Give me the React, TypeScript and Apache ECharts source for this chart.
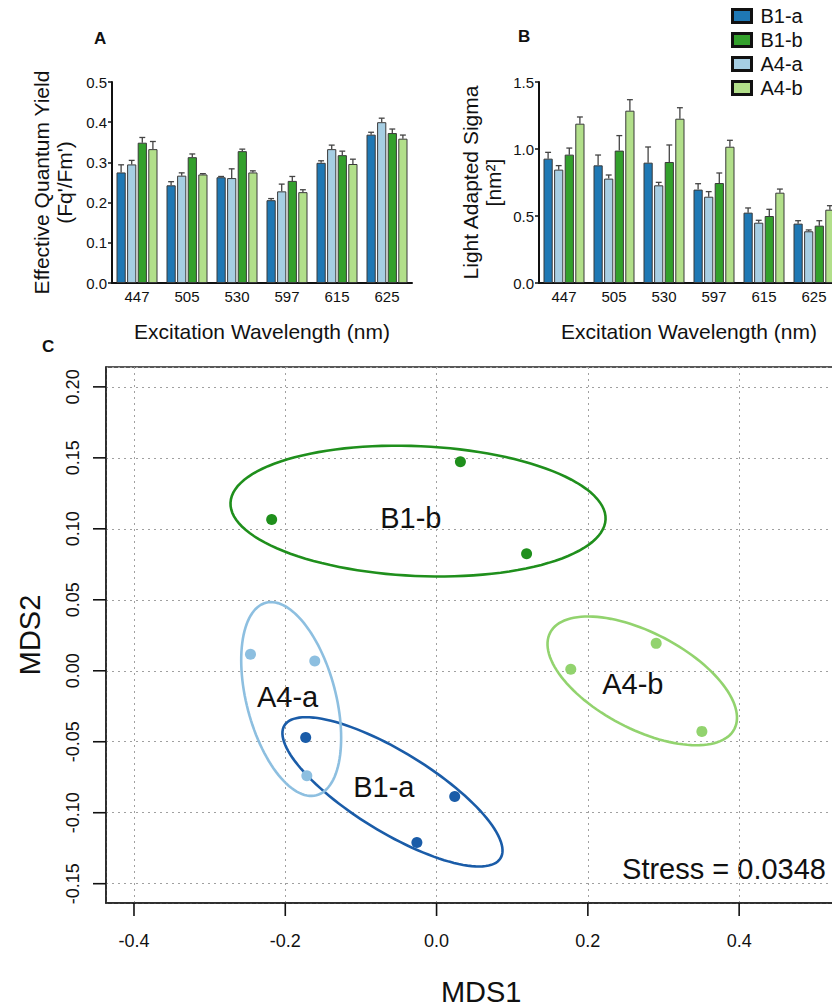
import React, { useEffect, useRef } from "react";
import * as echarts from "echarts";

const FONT = "'Liberation Sans', Arial, Helvetica, sans-serif";

// ---------- Panel A & B data ----------
const wavelengths = ["447", "505", "530", "597", "615", "625"];
const barGroups = ["B1-a", "A4-a", "B1-b", "A4-b"]; // drawing order in each cluster
const legendOrder = ["B1-a", "B1-b", "A4-a", "A4-b"];
const barColors = ["#1f78b4", "#a6cee3", "#33a02c", "#b2df8a"];

// Effective quantum yield (Fq'/Fm')
const yieldB1a = [0.275, 0.243, 0.263, 0.206, 0.299, 0.369];
const yieldA4a = [0.295, 0.267, 0.261, 0.228, 0.333, 0.4];
const yieldB1b = [0.349, 0.313, 0.328, 0.254, 0.318, 0.373];
const yieldA4b = [0.333, 0.27, 0.275, 0.226, 0.296, 0.359];
const yieldErrB1a = [0.019, 0.009, 0.002, 0.004, 0.005, 0.006];
const yieldErrA4a = [0.01, 0.007, 0.023, 0.018, 0.01, 0.01];
const yieldErrB1b = [0.013, 0.008, 0.005, 0.011, 0.01, 0.01];
const yieldErrA4b = [0.019, 0.002, 0.004, 0.006, 0.012, 0.009];

// Light adapted sigma (nm2)
const sigmaB1a = [0.928, 0.878, 0.898, 0.697, 0.525, 0.443];
const sigmaA4a = [0.846, 0.779, 0.729, 0.644, 0.45, 0.386];
const sigmaB1b = [0.958, 0.988, 0.903, 0.746, 0.5, 0.428];
const sigmaA4b = [1.189, 1.286, 1.226, 1.017, 0.674, 0.547];
const sigmaErrB1a = [0.047, 0.077, 0.117, 0.044, 0.035, 0.022];
const sigmaErrA4a = [0.03, 0.027, 0.022, 0.038, 0.018, 0.01];
const sigmaErrB1b = [0.049, 0.112, 0.127, 0.075, 0.05, 0.037];
const sigmaErrA4b = [0.05, 0.082, 0.082, 0.048, 0.027, 0.03];

// ---------- Panel C data (NMDS) ----------
const mdsColors = ["#1a5ca8", "#8dbfe0", "#1f8f1c", "#92d36e"]; // B1-a, A4-a, B1-b, A4-b
const mdsB1a = [[-0.173, -0.047], [0.024, -0.0885], [-0.026, -0.121]];
const mdsA4a = [[-0.246, 0.0117], [-0.161, 0.0069], [-0.1715, -0.0739]];
const mdsB1b = [[-0.218, 0.1066], [0.0315, 0.1472], [0.119, 0.0824]];
const mdsA4b = [[0.2903, 0.0193], [0.1774, 0.001], [0.3507, -0.0427]];
// ellipse: centre x, centre y, semi-axis 1 (dx, dy), semi-axis 2 (dx, dy) in data units
const ellB1a = [-0.0583, -0.0853, 0.1428, -0.0468, -0.0278, -0.024];
const ellA4a = [-0.1922, -0.0199, -0.0334, 0.0678, 0.057, 0.008];
const ellB1b = [-0.0245, 0.1125, 0.2479, -0.0059, -0.0038, -0.0457];
const ellA4b = [0.2719, -0.0071, 0.1217, -0.034, -0.0296, -0.03];
const groupLabelPos = [
  [-0.0697, -0.0817],
  [-0.197, -0.0185],
  [-0.034, 0.1075],
  [0.2595, -0.0094],
];
// axis ranges and ticks of panel C
const MDS_X_MIN = -0.437;
const MDS_X_MAX = 0.555;
const MDS_Y_MIN = -0.1636;
const MDS_Y_MAX = 0.214;
const mdsXTicks = [-0.4, -0.2, 0.0, 0.2, 0.4];
const mdsYTicks = [-0.15, -0.1, -0.05, 0.0, 0.05, 0.1, 0.15, 0.2];
const X_TICK_FIRST = -0.4;
const X_TICK_LAST = 0.4;
const X_TICK_STEP = 0.2;
const Y_TICK_FIRST = -0.15;
const Y_TICK_LAST = 0.2;
const Y_TICK_STEP = 0.05;
const stressText = "Stress = 0.0348";

const BAR_GAP = 0.15;
const CAT_GAP = 0.18;
const TICK_LEN = 13;

// panel C frame (pixels)
const C_LEFT = 106;
const C_TOP = 367;
const C_WIDTH = 750.4;
const C_HEIGHT = 536;

function barSeries(grid: number, values: number[][]) {
  return values.map((vals, k) => ({
    type: "bar",
    name: barGroups[k],
    xAxisIndex: grid,
    yAxisIndex: grid,
    data: vals,
    barGap: BAR_GAP * 100 + "%",
    barCategoryGap: CAT_GAP * 100 + "%",
    itemStyle: { color: barColors[k], borderColor: "#3a3a3a", borderWidth: 1 },
    z: 2,
  }));
}

function errSeries(grid: number, values: number[][], errs: number[][]) {
  return values.map((vals, k) => ({
    type: "custom",
    name: "err" + grid + "-" + k,
    xAxisIndex: grid,
    yAxisIndex: grid,
    z: 3,
    silent: true,
    data: vals.map((v, i) => [i, v, v + errs[k][i]]),
    encode: { x: 0, y: [1, 2] },
    renderItem: (params: any, api: any) => {
      const cat = api.value(0);
      const v = api.value(1);
      const hi = api.value(2);
      const band = api.size([1, 0])[0];
      const usable = band * (1 - CAT_GAP);
      const w = usable / (4 + 3 * BAR_GAP);
      const p0 = api.coord([cat, v]);
      const p1 = api.coord([cat, hi]);
      const x = p0[0] - usable / 2 + k * w * (1 + BAR_GAP) + w / 2;
      const hw = w * 0.32;
      const st = { stroke: "#444", lineWidth: 1.3 };
      return {
        type: "group",
        children: [
          { type: "line", shape: { x1: x, y1: p0[1], x2: x, y2: p1[1] }, style: st },
          { type: "line", shape: { x1: x - hw, y1: p1[1], x2: x + hw, y2: p1[1] }, style: st },
        ],
      };
    },
  }));
}

function ellipseSeries(params6: number[], color: string, idx: number) {
  return {
    type: "custom",
    name: "ellipse-" + idx,
    xAxisIndex: 2,
    yAxisIndex: 2,
    silent: true,
    z: 3,
    data: [params6],
    encode: { x: 0, y: 1 },
    renderItem: (p: any, api: any) => {
      const cx = api.value(0), cy = api.value(1);
      const ux = api.value(2), uy = api.value(3);
      const vx = api.value(4), vy = api.value(5);
      const c = api.coord([cx, cy]);
      const pu = api.coord([cx + ux, cy + uy]);
      const pv = api.coord([cx + vx, cy + vy]);
      const U = [pu[0] - c[0], pu[1] - c[1]];
      const V = [pv[0] - c[0], pv[1] - c[1]];
      const pts: number[][] = [];
      const N = 120;
      for (let i = 0; i < N; i++) {
        const t = (i / N) * Math.PI * 2;
        pts.push([c[0] + U[0] * Math.cos(t) + V[0] * Math.sin(t), c[1] + U[1] * Math.cos(t) + V[1] * Math.sin(t)]);
      }
      return {
        type: "polygon",
        shape: { points: pts },
        style: { fill: "none", stroke: color, lineWidth: 2.6 },
      };
    },
  };
}

export default function App() {
  const ref = useRef<HTMLDivElement>(null);
  useEffect(() => {
    if (!ref.current) return;
    const chart = echarts.init(ref.current, undefined, { renderer: "svg" });

    const yieldVals = [yieldB1a, yieldA4a, yieldB1b, yieldA4b];
    const yieldErrs = [yieldErrB1a, yieldErrA4a, yieldErrB1b, yieldErrA4b];
    const sigmaVals = [sigmaB1a, sigmaA4a, sigmaB1b, sigmaA4b];
    const sigmaErrs = [sigmaErrB1a, sigmaErrA4a, sigmaErrB1b, sigmaErrA4b];
    const mdsPts = [mdsB1a, mdsA4a, mdsB1b, mdsA4b];
    const ells = [ellB1a, ellA4a, ellB1b, ellA4b];

    // the R-style axes span only from the first to the last tick
    const pxX = C_WIDTH / (MDS_X_MAX - MDS_X_MIN);
    const pxY = C_HEIGHT / (MDS_Y_MAX - MDS_Y_MIN);
    const noBounds = { outerBoundsMode: "none", containLabel: false };
    const labelGridX = {
      left: C_LEFT + (X_TICK_FIRST - MDS_X_MIN) * pxX,
      width: (X_TICK_LAST - X_TICK_FIRST) * pxX,
      top: C_TOP,
      height: C_HEIGHT,
      ...noBounds,
    };
    const labelGridY = {
      left: C_LEFT,
      width: C_WIDTH,
      top: C_TOP + (MDS_Y_MAX - Y_TICK_LAST) * pxY,
      height: (Y_TICK_LAST - Y_TICK_FIRST) * pxY,
      ...noBounds,
    };
    // thin strips just outside the frame that hold the tick marks
    const tickStripX = { left: C_LEFT, width: C_WIDTH, top: C_TOP + C_HEIGHT, height: TICK_LEN, ...noBounds };
    const tickStripY = { left: C_LEFT - TICK_LEN, width: TICK_LEN, top: C_TOP, height: C_HEIGHT, ...noBounds };

    const catAxis = (grid: number) => ({
      type: "category",
      gridIndex: grid,
      data: wavelengths,
      axisLine: { lineStyle: { color: "#111", width: 2 } },
      axisTick: { alignWithLabel: true, length: 4, lineStyle: { color: "#111", width: 1.5 } },
      axisLabel: { color: "#111", fontSize: 15, fontFamily: FONT, margin: 6 },
      name: "Excitation Wavelength (nm)",
      nameLocation: "middle",
      nameGap: 38,
      nameTextStyle: { color: "#111", fontSize: 21, fontFamily: FONT },
    });

    const valAxis = (grid: number, max: number, interval: number, name: string, gap: number) => ({
      type: "value",
      gridIndex: grid,
      min: 0,
      max,
      interval,
      axisLine: { show: true, lineStyle: { color: "#111", width: 2 } },
      axisTick: { show: true, length: 4, lineStyle: { color: "#111", width: 1.5 } },
      splitLine: { show: false },
      axisLabel: {
        color: "#111",
        fontSize: 15,
        fontFamily: FONT,
        margin: 5,
        formatter: (v: number) => v.toFixed(1),
      },
      name,
      nameLocation: "middle",
      nameGap: gap,
      nameTextStyle: { color: "#111", fontSize: 21, lineHeight: 23, fontFamily: FONT, align: "center" },
    });

    const hiddenAxis = (grid: number, min = 0, max = 1) => ({
      type: "value",
      gridIndex: grid,
      show: false,
      min,
      max,
    });

    const labelOnlyAxis = (grid: number, min: number, max: number, step: number, digits: number, rotate: number, margin: number) => ({
      type: "value",
      gridIndex: grid,
      min,
      max,
      interval: step,
      axisLine: { show: false, onZero: false },
      axisTick: { show: false },
      splitLine: { show: false },
      axisLabel: {
        show: true,
        rotate,
        color: "#111",
        fontSize: 18,
        fontFamily: FONT,
        margin,
        formatter: (v: number) => v.toFixed(digits),
      },
    });

    const option: any = {
      animation: false,
      backgroundColor: "#fff",
      textStyle: { fontFamily: FONT },
      legend: {
        data: legendOrder,
        orient: "vertical",
        left: 726,
        top: 1,
        icon: "rect",
        itemWidth: 19,
        itemHeight: 13,
        itemGap: 4,
        selectedMode: false,
        itemStyle: { borderColor: "#111", borderWidth: 3 },
        textStyle: { color: "#111", fontSize: 20, fontFamily: FONT, padding: [0, 0, 0, 4] },
      },
      grid: [
        { left: 112, top: 82, width: 300, height: 201, ...noBounds },
        { left: 539, top: 82, width: 300, height: 201, ...noBounds },
        {
          left: C_LEFT,
          top: C_TOP,
          width: C_WIDTH,
          height: C_HEIGHT,
          ...noBounds,
          show: true,
          borderColor: "#222",
          borderWidth: 1.5,
          backgroundColor: "transparent",
        },
        labelGridX,
        labelGridY,
        tickStripX,
        tickStripY,
      ],
      xAxis: [
        catAxis(0),
        catAxis(1),
        {
          type: "value",
          gridIndex: 2,
          min: MDS_X_MIN,
          max: MDS_X_MAX,
          splitNumber: 5,
          axisLine: { show: true, onZero: false, lineStyle: { color: "#222", width: 1.5 } },
          axisTick: { show: false },
          axisLabel: { show: false },
          splitLine: { show: true, lineStyle: { color: "#a0a0a0", type: [2, 4], width: 1 } },
          name: "MDS1",
          nameLocation: "middle",
          nameGap: 74,
          nameTextStyle: { color: "#111", fontSize: 29, fontFamily: FONT },
        },
        labelOnlyAxis(3, X_TICK_FIRST, X_TICK_LAST, X_TICK_STEP, 1, 0, 29),
        hiddenAxis(4),
        hiddenAxis(5, MDS_X_MIN, MDS_X_MAX),
        hiddenAxis(6),
      ],
      yAxis: [
        valAxis(0, 0.5, 0.1, "Effective Quantum Yield\n(Fq'/Fm')", 36),
        valAxis(1, 1.5, 0.5, "Light Adapted Sigma\n[nm²]", 34),
        {
          type: "value",
          gridIndex: 2,
          min: MDS_Y_MIN,
          max: MDS_Y_MAX,
          splitNumber: 8,
          axisLine: { show: true, onZero: false, lineStyle: { color: "#222", width: 1.5 } },
          axisTick: { show: false },
          axisLabel: { show: false },
          splitLine: { show: true, lineStyle: { color: "#a0a0a0", type: [2, 4], width: 1 } },
          name: "MDS2",
          nameLocation: "middle",
          nameGap: 62,
          nameTextStyle: { color: "#111", fontSize: 29, fontFamily: FONT },
        },
        hiddenAxis(3),
        labelOnlyAxis(4, Y_TICK_FIRST, Y_TICK_LAST, Y_TICK_STEP, 2, 90, 24),
        hiddenAxis(5),
        hiddenAxis(6, MDS_Y_MIN, MDS_Y_MAX),
      ],
      series: [
        ...barSeries(0, yieldVals),
        ...barSeries(1, sigmaVals),
        ...errSeries(0, yieldVals, yieldErrs),
        ...errSeries(1, sigmaVals, sigmaErrs),
        ...ells.map((e, i) => ellipseSeries(e, mdsColors[i], i)),
        ...mdsPts.map((pts, i) => ({
          type: "scatter",
          name: "mds-" + barGroups[i],
          xAxisIndex: 2,
          yAxisIndex: 2,
          data: pts,
          symbolSize: 11,
          itemStyle: { color: mdsColors[i], opacity: 1 },
          silent: true,
          z: 4,
        })),
        {
          type: "scatter",
          name: "x-ticks",
          xAxisIndex: 5,
          yAxisIndex: 5,
          data: mdsXTicks.map((v) => [v, 0.5]),
          symbol: "rect",
          symbolSize: [1.6, TICK_LEN],
          itemStyle: { color: "#111", opacity: 1 },
          silent: true,
          clip: false,
          z: 6,
        },
        {
          type: "scatter",
          name: "y-ticks",
          xAxisIndex: 6,
          yAxisIndex: 6,
          data: mdsYTicks.map((v) => [0.5, v]),
          symbol: "rect",
          symbolSize: [TICK_LEN, 1.6],
          itemStyle: { color: "#111", opacity: 1 },
          silent: true,
          clip: false,
          z: 6,
        },
        {
          type: "custom",
          name: "group-labels",
          xAxisIndex: 2,
          yAxisIndex: 2,
          silent: true,
          z: 5,
          data: groupLabelPos.map((p, i) => ({ value: p, name: barGroups[i] })),
          encode: { x: 0, y: 1 },
          renderItem: (params: any, api: any) => {
            const c = api.coord([api.value(0), api.value(1)]);
            return {
              type: "text",
              x: c[0],
              y: c[1],
              style: {
                text: barGroups[params.dataIndex],
                fill: "#111",
                fontSize: 29,
                fontFamily: FONT,
                textAlign: "center",
                textVerticalAlign: "middle",
              },
            };
          },
        },
      ],
      graphic: [
        { type: "text", left: 94, top: 30, style: { text: "A", fontSize: 17, fontWeight: "bold", fill: "#111", fontFamily: FONT } },
        { type: "text", left: 518, top: 28, style: { text: "B", fontSize: 17, fontWeight: "bold", fill: "#111", fontFamily: FONT } },
        { type: "text", left: 42, top: 338, style: { text: "C", fontSize: 17, fontWeight: "bold", fill: "#111", fontFamily: FONT } },
        {
          type: "text",
          x: 826,
          y: 869,
          style: {
            text: stressText,
            fontSize: 29,
            fill: "#111",
            fontFamily: FONT,
            textAlign: "right",
            textVerticalAlign: "middle",
          },
        },
      ],
    };

    chart.setOption(option);
    return () => chart.dispose();
  }, []);

  return (
    <div
      ref={ref}
      style={{ position: "fixed", left: 0, top: 0, width: 832, height: 1007, background: "#fff" }}
    />
  );
}
